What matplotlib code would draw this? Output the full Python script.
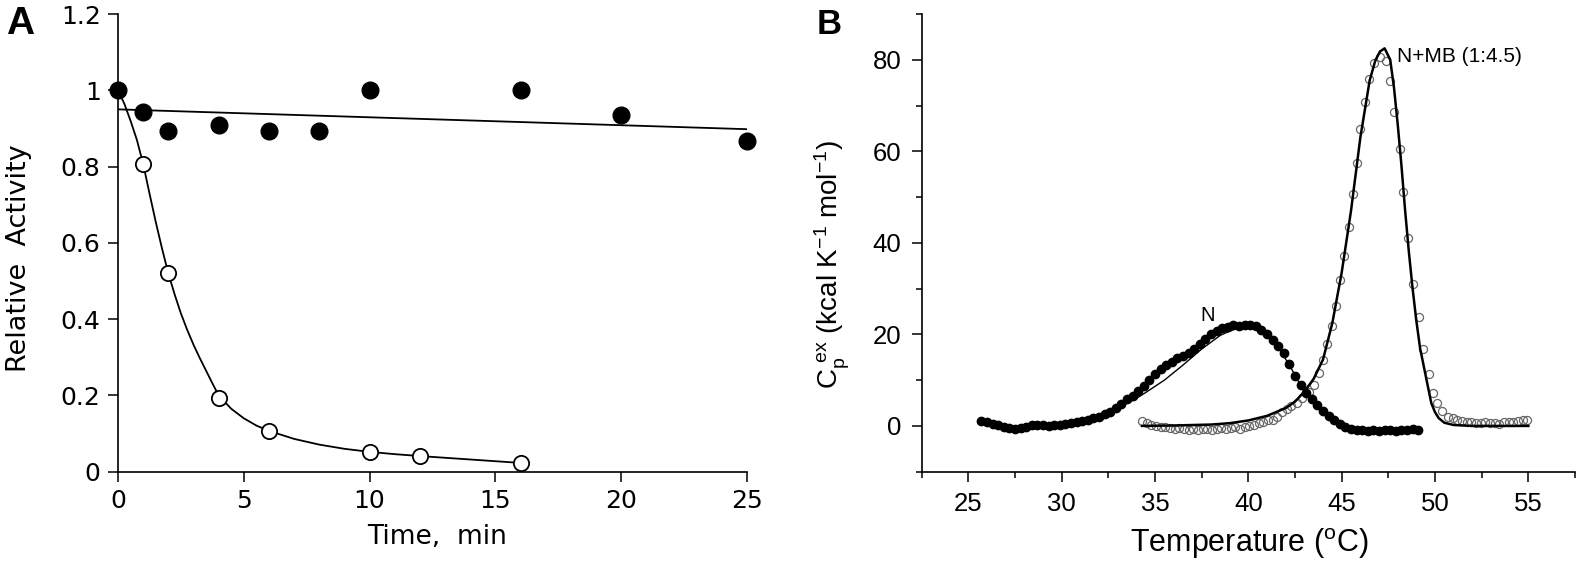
import matplotlib.pyplot as plt
from matplotlib.ticker import FixedLocator

# ---- panel A data: relative activity vs time ----
time_filled = [0, 1, 2, 4, 6, 8, 10, 16, 20, 25]
act_filled = [1.0, 0.944, 0.894, 0.909, 0.894, 0.894, 1.0, 1.0, 0.935, 0.868]
fit_filled_t = [0, 25]
fit_filled_v = [0.95, 0.898]

time_open = [1, 2, 4, 6, 10, 12, 16]
act_open = [0.807, 0.52, 0.192, 0.107, 0.051, 0.041, 0.022]
fit_open_t = [0, 0.25, 0.5, 0.75, 1, 1.25, 1.5, 1.75, 2, 2.25, 2.5, 2.75, 3, 3.25,
              3.5, 3.75, 4, 4.5, 5, 5.5, 6, 7, 8, 9, 10, 11, 12, 14, 16]
fit_open_v = [1.0, 0.965, 0.92, 0.87, 0.807, 0.73, 0.655, 0.585, 0.52, 0.465,
              0.415, 0.372, 0.333, 0.298, 0.265, 0.232, 0.2, 0.165, 0.14, 0.121,
              0.107, 0.086, 0.071, 0.06, 0.052, 0.046, 0.041, 0.032, 0.023]

a_xticks = [0, 5, 10, 15, 20, 25]
a_yticks = [0, 0.2, 0.4, 0.6, 0.8, 1.0, 1.2]
a_ylabels = ['0', '0.2', '0.4', '0.6', '0.8', '1', '1.2']

# ---- panel B data: excess heat capacity ----
n_T = [25.7, 26.0, 26.3, 26.6, 26.9, 27.2, 27.5, 27.8, 28.1, 28.4, 28.7, 29.0,
       29.3, 29.6, 29.9, 30.2, 30.5, 30.8, 31.1, 31.4, 31.7, 32.0, 32.3, 32.6,
       32.9, 33.2, 33.5, 33.8, 34.1, 34.4, 34.7, 35.0, 35.3, 35.6, 35.9, 36.2,
       36.5, 36.8, 37.1, 37.4, 37.7, 38.0, 38.3, 38.6, 38.9, 39.2, 39.5, 39.8,
       40.1, 40.4, 40.7, 41.0, 41.3, 41.6, 41.9, 42.2, 42.5, 42.8, 43.1, 43.4,
       43.7, 44.0, 44.3, 44.6, 44.9, 45.2, 45.5, 45.8, 46.1, 46.4, 46.7, 47.0,
       47.3, 47.6, 47.9, 48.2, 48.5, 48.8, 49.1]
n_cp = [1.0, 0.8, 0.4, 0.1, -0.3, -0.5, -0.6, -0.4, -0.2, 0.1, 0.3, 0.2,
        0.0, 0.2, 0.3, 0.4, 0.6, 0.8, 1.0, 1.3, 1.7, 2.0, 2.5, 3.0,
        3.9, 4.9, 5.8, 6.6, 7.6, 8.7, 10.0, 11.3, 12.4, 13.3, 14.0, 14.8,
        15.3, 16.0, 16.8, 17.8, 19.0, 20.0, 20.8, 21.3, 21.7, 22.0, 21.8, 22.0,
        22.1, 21.9, 21.0, 20.0, 18.8, 17.5, 16.0, 13.5, 10.8, 9.0, 7.2, 5.8,
        4.6, 3.3, 2.2, 1.3, 0.4, -0.3, -0.6, -0.8, -0.9, -1.0, -0.8, -1.0,
        -0.9, -0.8, -1.0, -0.8, -0.9, -0.7, -0.8]
n_fit_T = [25.7, 27, 28, 29, 30, 31, 32, 33, 34, 34.5, 35.5, 36.5, 37.5, 38.5,
           39.5, 40.2, 40.8, 41.5, 42.2, 43.0, 43.7, 44.5, 45.2, 46.0, 47.0, 49.1]
n_fit_cp = [0.6, 0.0, 0.1, 0.3, 0.5, 1.0, 2.0, 3.8, 6.0, 7.3, 10.0, 13.3, 16.8, 19.8,
            21.6, 22.0, 21.0, 17.8, 13.3, 7.4, 4.5, 1.5, -0.3, -0.8, -0.9, -0.8]

mb_T = [34.3, 34.55, 34.8, 35.05, 35.3, 35.55, 35.8, 36.05, 36.3, 36.55, 36.8,
        37.05, 37.3, 37.55, 37.8, 38.05, 38.3, 38.55, 38.8, 39.05, 39.3, 39.55,
        39.8, 40.05, 40.3, 40.55, 40.8, 41.05, 41.3, 41.55, 41.8, 42.05, 42.3,
        42.6, 42.9, 43.26, 43.5, 43.8, 44.0, 44.2, 44.46, 44.7, 44.93, 45.14,
        45.37, 45.6, 45.8, 46.0, 46.26, 46.48, 46.75, 47.05, 47.35, 47.6, 47.8,
        48.1, 48.3, 48.53, 48.84, 49.16, 49.37, 49.66, 49.87, 50.1, 50.4, 50.7,
        50.95, 51.2, 51.45, 51.7, 51.95, 52.2, 52.45, 52.7, 52.95, 53.2, 53.45,
        53.7, 53.95, 54.2, 54.45, 54.7, 54.95]
mb_cp = [1.0, 0.6, 0.3, 0.0, -0.2, -0.3, -0.5, -0.6, -0.5, -0.7, -0.8,
         -0.6, -0.8, -0.7, -0.6, -0.8, -0.6, -0.5, -0.7, -0.5, -0.3, -0.6,
         -0.2, 0.0, 0.3, 0.6, 0.9, 1.2, 1.3, 2.0, 3.0, 3.6, 4.4,
         5.0, 6.0, 7.4, 9.0, 11.5, 14.5, 18.0, 21.8, 26.2, 31.8, 37.2,
         43.5, 50.7, 57.4, 64.8, 70.8, 75.8, 79.2, 80.5, 79.8, 75.4, 68.6,
         60.6, 51.1, 41.1, 31.1, 23.7, 16.8, 11.4, 7.2, 5.1, 3.2, 2.0,
         1.7, 1.4, 1.1, 0.9, 0.8, 0.7, 0.6, 0.8, 0.7, 0.6, 0.5,
         0.8, 0.9, 0.8, 1.0, 1.2, 1.3]
mb_fit_T = [34.3, 36, 38, 39, 40, 41, 42, 42.5, 43, 43.5, 44, 44.5, 45, 45.5,
            46, 46.5, 46.8, 47.05, 47.3, 47.6, 47.8, 48.0, 48.2, 48.4, 48.6,
            48.8, 49.0, 49.2, 49.4, 49.6, 49.8, 50.0, 50.2, 50.5, 51.0, 52, 55]
mb_fit_cp = [0.0, 0.1, 0.3, 0.6, 1.2, 2.2, 3.9, 5.3, 7.5, 10.3, 14.5, 22.5, 33.5, 47.0,
             63.0, 75.5, 79.8, 81.8, 82.5, 80.0, 74.0, 66.0, 57.0, 47.0, 38.0,
             30.0, 23.0, 17.0, 13.0, 9.0, 5.0, 3.0, 1.7, 0.7, 0.2, 0.0, 0.0]

b_xticks = [25, 30, 35, 40, 45, 50, 55]
b_yticks = [0, 20, 40, 60, 80]
b_xminor = [22.5, 27.5, 32.5, 37.5, 42.5, 47.5, 52.5, 57.5]
b_yminor = [-10, 10, 30, 50, 70, 90]

fig = plt.figure(figsize=(15.77, 5.63), dpi=100)

# ================= panel A =================
fa = 'DejaVu Sans'
axA = fig.add_axes([118 / 1577, 1 - 471.7 / 563, 629 / 1577, 457.7 / 563])
axA.plot(fit_filled_t, fit_filled_v, color='black', lw=1.3, zorder=2)
axA.plot(fit_open_t, fit_open_v, color='black', lw=1.3, zorder=2)
axA.plot(time_open, act_open, 'o', ms=11, mfc='white', mec='black', mew=1.3,
         clip_on=False, zorder=3)
axA.plot(time_filled, act_filled, 'o', ms=12, color='black', clip_on=False, zorder=4)
axA.set_xlim(0, 25)
axA.set_ylim(0, 1.2)
axA.spines['top'].set_visible(False)
axA.spines['right'].set_visible(False)
for s in ('left', 'bottom'):
    axA.spines[s].set_linewidth(1.2)
axA.set_xticks(a_xticks)
axA.set_yticks(a_yticks)
axA.set_yticklabels(a_ylabels)
axA.tick_params(direction='out', length=7.5, width=1.1, labelsize=18, pad=5)
for lab in axA.get_xticklabels() + axA.get_yticklabels():
    lab.set_fontfamily(fa)
axA.set_xlabel('Time,  min', fontsize=19, family=fa, va='center')
axA.set_ylabel('Relative  Activity', fontsize=19.5, family=fa, va='center')
axA.xaxis.set_label_coords(0.507, -0.143)
axA.yaxis.set_label_coords(-0.158, 0.467)
fig.text(20 / 1577, 1 - 24 / 563, 'A', fontsize=28, fontweight='bold',
         family='Liberation Sans', ha='center', va='center')

# ================= panel B =================
fb = 'Liberation Sans'
axB = fig.add_axes([921.7 / 1577, 1 - 471.7 / 563, 653.3 / 1577, 457.7 / 563])
axB.plot(n_T, n_cp, 'o', ms=6, color='black', mec='black', zorder=3)
axB.plot(n_fit_T, n_fit_cp, color='black', lw=1.0, zorder=2)
axB.plot(mb_T, mb_cp, 'o', ms=5.8, mfc='none', mec='#666666', mew=0.9, zorder=2)
axB.plot(mb_fit_T, mb_fit_cp, color='black', lw=1.8, zorder=4)
axB.set_xlim(22.5, 57.5)
axB.set_ylim(-10, 90)
axB.spines['top'].set_visible(False)
axB.spines['right'].set_visible(False)
for s in ('left', 'bottom'):
    axB.spines[s].set_linewidth(1.2)
axB.xaxis.set_major_locator(FixedLocator(b_xticks))
axB.yaxis.set_major_locator(FixedLocator(b_yticks))
axB.xaxis.set_minor_locator(FixedLocator(b_xminor))
axB.yaxis.set_minor_locator(FixedLocator(b_yminor))
axB.tick_params(which='major', direction='out', length=7.5, width=1.1, labelsize=18.5, pad=7)
axB.tick_params(which='minor', direction='out', length=4, width=1.1)
for lab in axB.get_xticklabels() + axB.get_yticklabels():
    lab.set_fontfamily(fb)
axB.set_xlabel(r'Temperature ($\mathregular{^o}$C)', fontsize=22, family=fb, va='center')
axB.set_ylabel(r'C$\mathregular{_p^{\ ex}}$ (kcal K$\mathregular{^{-1}}$ mol$\mathregular{^{-1}}$)',
               fontsize=20, family=fb, va='center')
axB.xaxis.set_label_coords(0.501, -0.157)
axB.yaxis.set_label_coords(-0.137, 0.453)
axB.text(37.8, 24.2, 'N', fontsize=14.5, family=fb, ha='center', va='center')
axB.text(47.95, 80.8, 'N+MB (1:4.5)', fontsize=15, family=fb, ha='left', va='center')
fig.text(829 / 1577, 1 - 25 / 563, 'B', fontsize=25, fontweight='bold',
         family=fb, ha='center', va='center')

fig.savefig('out.png', dpi=100)
